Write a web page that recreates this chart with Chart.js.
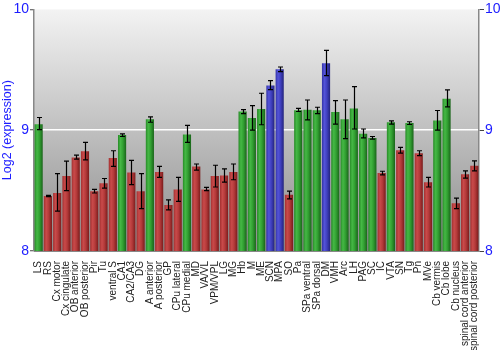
<!DOCTYPE html>
<html>
<head>
<meta charset="utf-8">
<script src="https://cdn.jsdelivr.net/npm/chart.js@4"></script>
<style>
    html, body { margin: 0; padding: 0; background: #fff; }
    #wrap { width: 500px; height: 350px; }
</style>
</head>
<body>
<div id="wrap"><canvas id="exprChart"></canvas></div>
<script>
const regions = ['LS', 'RS', 'Cx motor', 'Cx cingulate', 'OB anterior', 'OB posterior', 'Pir', 'Tu',
    'ventral S', 'CA1', 'CA2/CA3', 'DG', 'A anterior', 'A posterior', 'GP', 'CPu lateral', 'CPu medial',
    'MD', 'VA/VL', 'VPM/VPL', 'LG', 'MG', 'Hb', 'M', 'ME', 'SCN', 'MPA', 'SO', 'Pa', 'SPa ventral',
    'SPa dorsal', 'DM', 'VMH', 'Arc', 'LH', 'PAG', 'SC', 'IC', 'VTA', 'SN', 'Tg', 'Pn', 'MVe',
    'Cb vermis', 'Cb lobe', 'Cb nucleus', 'spinal cord anterior', 'spinal cord posterior'];

// 평균 발현량 (log2)
const expression = [9.05, 8.455, 8.48, 8.62, 8.775, 8.825, 8.495, 8.56, 8.77, 8.96, 8.65, 8.495, 9.09,
    8.655, 8.38, 8.51, 8.965, 8.70, 8.51, 8.62, 8.625, 8.655, 9.155, 9.10, 9.175, 9.37, 9.505, 8.465,
    9.165, 9.17, 9.165, 9.555, 9.15, 9.09, 9.18, 8.97, 8.935, 8.645, 9.065, 8.835, 9.06, 8.81, 8.57,
    9.08, 9.26, 8.395, 8.635, 8.705];

// 오차 막대 하단 / 상단
const errLow = [9.005, 8.45, 8.33, 8.50, 8.76, 8.755, 8.48, 8.52, 8.70, 8.948, 8.55, 8.35, 9.066,
    8.61, 8.34, 8.41, 8.90, 8.67, 8.50, 8.53, 8.57, 8.59, 9.138, 9.0, 9.045, 9.336, 9.485, 8.432,
    9.155, 9.085, 9.138, 9.452, 9.05, 8.93, 9.01, 8.936, 8.926, 8.63, 9.05, 8.81, 9.047, 8.79, 8.53,
    9.0, 9.193, 8.35, 8.603, 8.664];
const errHigh = [9.105, 8.46, 8.64, 8.744, 8.793, 8.90, 8.51, 8.60, 8.83, 8.97, 8.75, 8.64, 9.11,
    8.70, 8.424, 8.61, 9.04, 8.72, 8.526, 8.71, 8.68, 8.72, 9.17, 9.204, 9.306, 9.41, 9.523, 8.496,
    9.18, 9.25, 9.19, 9.66, 9.245, 9.25, 9.361, 9.01, 8.948, 8.66, 9.077, 8.857, 9.07, 8.83, 8.61,
    9.163, 9.333, 8.438, 8.664, 8.746];

const yTicks = [8, 9, 10];

// 값 구간별 막대 색 (좌측 → 중앙 → 우측 음영)
const shades = {
    red:   ['#a33030', '#c94a4a', '#b43a3a', '#7a1c1c'],
    green: ['#278a27', '#45b845', '#32a032', '#1a641a'],
    blue:  ['#3232a8', '#5454d8', '#4040c0', '#24247c']
};
function tone(v) {
    if (v >= 9.3) return 'blue';
    if (v >= 8.9) return 'green';
    return 'red';
}

const BAR_PCT = 0.88;

// 막대마다 가로 그라데이션 만들기
function barFill(context) {
    const chart = context.chart;
    const stops = shades[tone(expression[context.dataIndex])];
    const xs = chart.scales.x;
    if (!chart.chartArea || !xs) return stops[1];
    const cx = xs.getPixelForValue(context.dataIndex);
    const half = xs.width / regions.length * BAR_PCT / 2;
    const g = chart.ctx.createLinearGradient(cx - half, 0, cx + half, 0);
    g.addColorStop(0, stops[0]);
    g.addColorStop(0.3, stops[1]);
    g.addColorStop(0.6, stops[2]);
    g.addColorStop(1, stops[3]);
    return g;
}

// 플롯 영역 배경 (위는 밝고 아래는 어둡게)
const plotBackground = {
    id: 'plotBackground',
    beforeDraw(chart) {
        const { ctx, chartArea: a } = chart;
        const g = ctx.createLinearGradient(0, a.top, 0, a.bottom);
        g.addColorStop(0, '#f3f3f3');
        g.addColorStop(1, '#8c8c8c');
        ctx.save();
        ctx.fillStyle = g;
        ctx.fillRect(a.left, a.top, a.right - a.left, a.bottom - a.top);
        ctx.restore();
    }
};

// 오차 막대
const errorBars = {
    id: 'errorBars',
    afterDatasetsDraw(chart) {
        const { ctx } = chart;
        const y = chart.scales.y;
        const meta = chart.getDatasetMeta(0);
        ctx.save();
        ctx.strokeStyle = '#000';
        ctx.lineWidth = 1.2;
        meta.data.forEach((bar, i) => {
            const x = Math.round(bar.x) + 0.5;
            const lo = y.getPixelForValue(errLow[i]);
            const hi = y.getPixelForValue(errHigh[i]);
            ctx.beginPath();
            ctx.moveTo(x, lo);
            ctx.lineTo(x, hi);
            ctx.moveTo(x - 2.5, lo);
            ctx.lineTo(x + 2.5, lo);
            ctx.moveTo(x - 2.5, hi);
            ctx.lineTo(x + 2.5, hi);
            ctx.stroke();
        });
        ctx.restore();
    }
};

const tickFont = { family: 'Liberation Sans, Arial, sans-serif', size: 14 };

const ctx = document.getElementById('exprChart').getContext('2d');
const exprChart = new Chart(ctx, {
    type: 'bar',
    data: {
        labels: regions,
        datasets: [{
            data: expression,
            backgroundColor: barFill,
            borderWidth: 0,
            barPercentage: BAR_PCT,
            categoryPercentage: 1.0
        }]
    },
    options: {
        responsive: true,
        maintainAspectRatio: false,
        animation: false,
        layout: { padding: { top: 9 } },
        plugins: {
            legend: { display: false },
            tooltip: { enabled: false }
        },
        scales: {
            x: {
                grid: { display: false },
                border: { display: true, color: '#888' },
                ticks: {
                    autoSkip: false,
                    maxRotation: 90,
                    minRotation: 90,
                    padding: 2,
                    color: '#222',
                    font: { family: 'Liberation Sans, Arial, sans-serif', size: 10 }
                },
                afterFit: s => { s.height = 99; }
            },
            y: {
                position: 'left',
                min: 8,
                max: 10,
                afterBuildTicks: s => { s.ticks = yTicks.map(v => ({ value: v })); },
                ticks: { color: '#1c1cff', font: tickFont, padding: 1 },
                grid: {
                    color: c => (c.tick && c.tick.value === 9) ? '#ffffff' : 'rgba(0,0,0,0)',
                    lineWidth: 1.5,
                    tickLength: 4,
                    tickColor: '#444',
                    tickWidth: 1
                },
                border: { display: true, color: '#888', width: 1.5 },
                title: {
                    display: true,
                    text: 'Log2 (expression)',
                    color: '#1c1cff',
                    font: { family: 'Liberation Sans, Arial, sans-serif', size: 12.5 },
                    padding: 0
                },
                afterFit: s => { s.width = 34; }
            },
            y2: {
                position: 'right',
                min: 8,
                max: 10,
                afterBuildTicks: s => { s.ticks = yTicks.map(v => ({ value: v })); },
                ticks: { color: '#1c1cff', font: tickFont, padding: 1 },
                grid: { drawOnChartArea: false, tickLength: 5, tickColor: '#444' },
                border: { display: true, color: '#888', width: 1.5 },
                afterFit: s => { s.width = 21; }
            }
        }
    },
    plugins: [plotBackground, errorBars]
});
</script>
</body>
</html>
